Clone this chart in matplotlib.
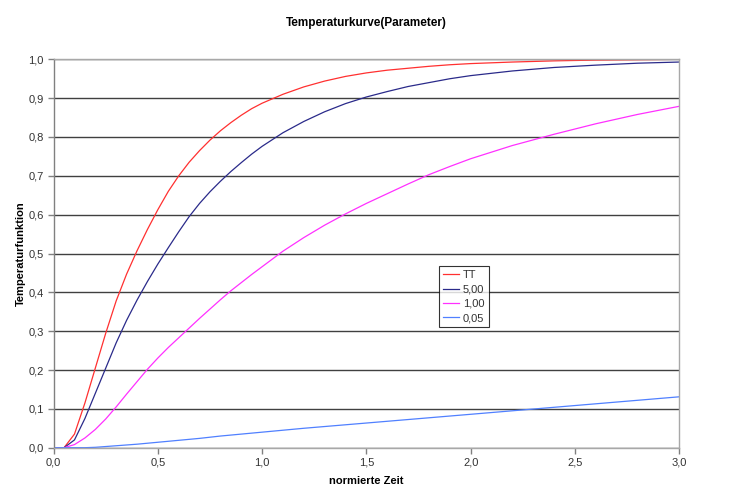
import matplotlib
matplotlib.use('Agg')
import matplotlib.pyplot as plt
from matplotlib.ticker import MultipleLocator, FuncFormatter

plt.rcParams['font.family'] = ['Liberation Sans', 'DejaVu Sans']

zeit = [0.0, 0.05, 0.1, 0.15, 0.2, 0.25, 0.3, 0.35, 0.4, 0.45, 0.5, 0.55, 0.6, 0.65, 0.7,
        0.75, 0.8, 0.85, 0.9, 0.95, 1.0, 1.1, 1.2, 1.3, 1.4, 1.5, 1.6, 1.7, 1.8, 1.9,
        2.0, 2.2, 2.4, 2.6, 2.8, 3.0]

tt = [0.0, 0.0, 0.035, 0.115, 0.205, 0.295, 0.378, 0.447, 0.507, 0.562, 0.613, 0.66, 0.70, 0.735, 0.765,
      0.792, 0.816, 0.837, 0.856, 0.873, 0.887, 0.91, 0.929, 0.944, 0.956, 0.965, 0.972, 0.977, 0.982, 0.986,
      0.989, 0.993, 0.996, 0.998, 0.999, 1.0]
p500 = [0.0, 0.0, 0.02, 0.075, 0.14, 0.205, 0.27, 0.328, 0.38, 0.428, 0.473, 0.515, 0.556, 0.595, 0.629,
        0.659, 0.686, 0.711, 0.734, 0.756, 0.776, 0.811, 0.84, 0.865, 0.886, 0.903, 0.917, 0.93, 0.94, 0.95,
        0.958, 0.97, 0.979, 0.985, 0.99, 0.993]
p100 = [0.0, 0.0, 0.008, 0.025, 0.047, 0.074, 0.105, 0.138, 0.17, 0.202, 0.231, 0.258, 0.283, 0.308, 0.333,
        0.357, 0.381, 0.404, 0.425, 0.446, 0.466, 0.506, 0.541, 0.573, 0.602, 0.629, 0.654, 0.679, 0.703, 0.724,
        0.744, 0.778, 0.807, 0.834, 0.858, 0.879]
p005 = [0.0, 0.0, 0.0, 0.0, 0.001, 0.003, 0.005, 0.007, 0.009, 0.0115, 0.014, 0.0165, 0.019, 0.0215, 0.024,
        0.027, 0.03, 0.0325, 0.035, 0.0375, 0.04, 0.045, 0.05, 0.0545, 0.059, 0.0635, 0.068, 0.0725, 0.077, 0.0815,
        0.086, 0.095, 0.104, 0.113, 0.122, 0.131]

labels = ['TT', '5,00', '1,00', '0,05']
colors = ['#ff3030', '#2a2a8a', '#ff30ff', '#5080ff']

fig = plt.figure(figsize=(7.5, 5.01), dpi=100)
ax = fig.add_axes([0.0715, 0.1064, 0.834, 0.7752])

for ys, lab, c in zip([tt, p500, p100, p005], labels, colors):
    ax.plot(zeit, ys, color=c, lw=0.9, label=lab)

ax.set_xlim(0, 3.0)
ax.set_ylim(0, 1.0)
ax.xaxis.set_major_locator(MultipleLocator(0.5))
ax.yaxis.set_major_locator(MultipleLocator(0.1))
komma = FuncFormatter(lambda v, p: f'{v:.1f}'.replace('.', ','))
ax.xaxis.set_major_formatter(komma)
ax.yaxis.set_major_formatter(komma)

ax.grid(axis='y', color='#404040', lw=1.0)
ax.set_axisbelow(True)
for s in ['top', 'right', 'bottom']:
    ax.spines[s].set_color('#a8a8a8')
ax.spines['left'].set_color('#808080')
for s in ax.spines.values():
    s.set_linewidth(1.0)

ax.tick_params(axis='both', direction='out', length=4, width=1, color='#808080',
               labelsize=8, labelcolor='#333333', pad=3)

ax.set_title('Temperaturkurve(Parameter)', fontsize=8.5, fontweight='bold', pad=24)
ax.set_xlabel('normierte Zeit', fontsize=8, fontweight='bold', labelpad=6)
ax.set_ylabel('Temperaturfunktion', fontsize=8, fontweight='bold', labelpad=2)

leg = ax.legend(loc='upper left', bbox_to_anchor=(0.616, 0.468), borderaxespad=0,
                fontsize=8, frameon=True, fancybox=False, handlelength=1.4,
                labelspacing=0.38, borderpad=0.4, handletextpad=0.35)
leg.get_frame().set_edgecolor('black')
leg.get_frame().set_linewidth(0.8)
for t in leg.get_texts():
    t.set_color('#333333')

plt.savefig('out.png', dpi=100)
